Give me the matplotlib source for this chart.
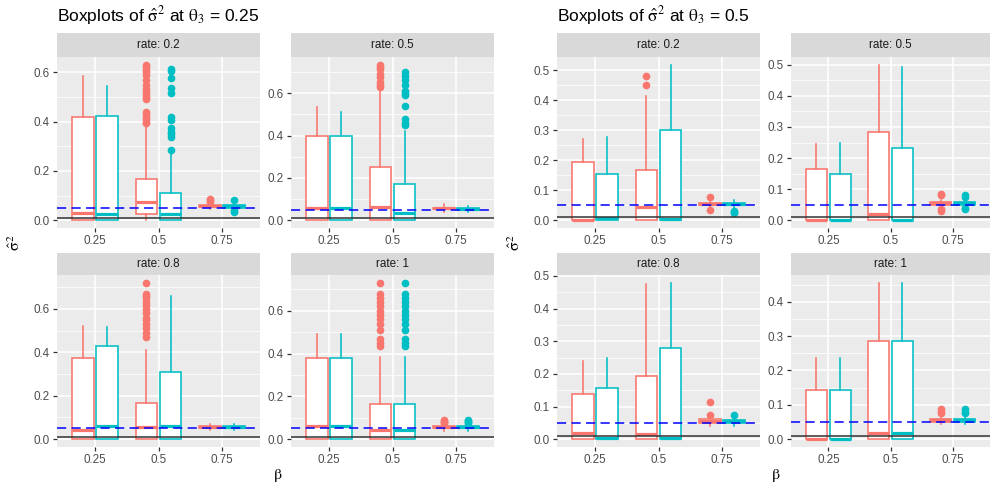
import matplotlib
matplotlib.use('Agg')
import matplotlib.pyplot as plt
from matplotlib.ticker import MultipleLocator, FormatStrFormatter

plt.rcParams['font.family'] = ['Liberation Sans', 'DejaVu Sans']
plt.rcParams['mathtext.fontset'] = 'stix'

# ---------------- data ----------------
beta_labels = ['0.25', '0.5', '0.75']
rate_labels = ['rate: 0.2', 'rate: 0.5', 'rate: 0.8', 'rate: 1']
titles = ['Boxplots of $\\hat{\\mathrm{\\sigma}}^2$ at $\\mathrm{\\theta}_3$ = 0.25',
          'Boxplots of $\\hat{\\mathrm{\\sigma}}^2$ at $\\mathrm{\\theta}_3$ = 0.5']
red = '#F8766D'
teal = '#00BFC4'
ref_solid = 0.01
ref_dashed = 0.05

# stats per beta: [whislo, q1, median, q3, whishi]
# theta3 = 0.25, rate 0.2
A_red = [[0, 0, 0.031, 0.42, 0.585], [0, 0.024, 0.072, 0.167, 0.379], [0.045, 0.052, 0.056, 0.06, 0.068]]
A_red_out = [[], [0.393, 0.40, 0.41, 0.42, 0.43, 0.44, 0.49, 0.50, 0.51, 0.52, 0.53, 0.55, 0.57, 0.59, 0.60, 0.61, 0.62, 0.63], [0.075, 0.08, 0.085]]
A_teal = [[0, 0, 0.027, 0.421, 0.544], [0, 0, 0.027, 0.111, 0.27], [0.045, 0.05, 0.056, 0.06, 0.066]]
A_teal_out = [[], [0.285, 0.339, 0.35, 0.359, 0.372, 0.406, 0.417, 0.515, 0.535, 0.575, 0.605, 0.613], [0.035, 0.04, 0.082]]
# theta3 = 0.25, rate 0.5
B_red = [[0, 0, 0.058, 0.396, 0.533], [0, 0, 0.064, 0.252, 0.62], [0.04, 0.052, 0.056, 0.06, 0.075]]
B_red_out = [[], [0.63, 0.64, 0.655, 0.675, 0.69, 0.715, 0.725, 0.735], []]
B_teal = [[0, 0, 0.058, 0.40, 0.514], [0, 0, 0.034, 0.17, 0.424], [0.04, 0.05, 0.055, 0.06, 0.068]]
B_teal_out = [[], [0.45, 0.46, 0.48, 0.54, 0.59, 0.60, 0.61, 0.64, 0.665, 0.68, 0.70], []]
# theta3 = 0.25, rate 0.8
E_red = [[0, 0, 0.043, 0.374, 0.52], [0, 0, 0.054, 0.166, 0.412], [0.04, 0.052, 0.056, 0.06, 0.07]]
E_red_out = [[], [0.47, 0.49, 0.51, 0.53, 0.55, 0.56, 0.58, 0.60, 0.62, 0.63, 0.65, 0.66, 0.67, 0.72], []]
E_teal = [[0, 0, 0.062, 0.428, 0.515], [0, 0, 0.062, 0.308, 0.661], [0.04, 0.052, 0.056, 0.06, 0.07]]
E_teal_out = [[], [], []]
# theta3 = 0.25, rate 1
F_red = [[0, 0, 0.06, 0.38, 0.49], [0, 0, 0.044, 0.166, 0.385], [0.04, 0.052, 0.056, 0.06, 0.07]]
F_red_out = [[], [0.435, 0.45, 0.47, 0.51, 0.54, 0.56, 0.58, 0.60, 0.62, 0.64, 0.66, 0.68, 0.73], [0.075, 0.08, 0.085, 0.09]]
F_teal = [[0, 0, 0.06, 0.38, 0.49], [0, 0, 0.044, 0.166, 0.385], [0.04, 0.052, 0.056, 0.06, 0.07]]
F_teal_out = [[], [0.435, 0.45, 0.47, 0.51, 0.54, 0.56, 0.58, 0.60, 0.62, 0.64, 0.66, 0.68, 0.73], [0.075, 0.08, 0.085, 0.09]]
# theta3 = 0.5, rate 0.2
C_red = [[0, 0, 0.002, 0.195, 0.27], [0, 0, 0.045, 0.167, 0.415], [0.045, 0.05, 0.055, 0.058, 0.065]]
C_red_out = [[], [0.45, 0.48], [0.035, 0.077]]
C_teal = [[0, 0, 0.009, 0.153, 0.279], [0, 0, 0.003, 0.302, 0.519], [0.04, 0.05, 0.055, 0.058, 0.068]]
C_teal_out = [[], [], [0.025, 0.028, 0.031]]
# theta3 = 0.5, rate 0.5
D_red = [[0, 0, 0.002, 0.166, 0.245], [0, 0, 0.019, 0.285, 0.50], [0.04, 0.05, 0.054, 0.058, 0.065]]
D_red_out = [[], [], [0.03, 0.035, 0.08, 0.085]]
D_teal = [[0, 0, 0.0, 0.15, 0.248], [0, 0, 0.0, 0.232, 0.494], [0.045, 0.05, 0.055, 0.058, 0.066]]
D_teal_out = [[], [], [0.035, 0.04, 0.075, 0.08]]
# theta3 = 0.5, rate 0.8
G_red = [[0, 0, 0.018, 0.139, 0.24], [0, 0, 0.016, 0.194, 0.474], [0.04, 0.05, 0.055, 0.062, 0.065]]
G_red_out = [[], [], [0.073, 0.115]]
G_teal = [[0, 0, 0.003, 0.157, 0.249], [0, 0, 0.005, 0.28, 0.479], [0.04, 0.05, 0.055, 0.06, 0.068]]
G_teal_out = [[], [], [0.075]]
# theta3 = 0.5, rate 1
H_red = [[0, 0, 0.0, 0.142, 0.236], [0, 0, 0.018, 0.285, 0.455], [0.043, 0.05, 0.055, 0.058, 0.068]]
H_red_out = [[], [], [0.075, 0.08, 0.087]]
H_teal = [[0, 0, 0.0, 0.142, 0.236], [0, 0, 0.018, 0.285, 0.455], [0.043, 0.05, 0.055, 0.058, 0.068]]
H_teal_out = [[], [], [0.075, 0.08, 0.087]]

# ---------------- layout ----------------
W, H = 992, 488
fig = plt.figure(figsize=(W / 100, H / 100), dpi=100)


def px_axes(x0, y0, x1, y1):
    return fig.add_axes([x0 / W, 1 - y1 / H, (x1 - x0) / W, (y1 - y0) / H])


def mk(stats, outs):
    return [dict(whislo=s[0], q1=s[1], med=s[2], q3=s[3], whishi=s[4], fliers=o)
            for s, o in zip(stats, outs)]


def draw_panel(x0, x1, sy0, py0, py1, label, rs, ro, ts, to, step):
    sax = px_axes(x0, sy0, x1, py0)
    sax.set_facecolor('#D9D9D9')
    sax.set_xticks([]); sax.set_yticks([])
    for s in sax.spines.values():
        s.set_visible(False)
    sax.text(0.5, 0.5, label, ha='center', va='center', fontsize=8.4,
             color='#1A1A1A', transform=sax.transAxes)

    ax = px_axes(x0, py0, x1, py1)
    ax.set_facecolor('#EBEBEB')
    for s in ax.spines.values():
        s.set_visible(False)
    ax.set_axisbelow(True)
    pos = [1, 2, 3]
    for stats, outs, c, off in ((rs, ro, red, -0.19), (ts, to, teal, 0.19)):
        ax.bxp(mk(stats, outs), positions=[p + off for p in pos], widths=0.34,
               patch_artist=True, showcaps=False, manage_ticks=False,
               boxprops=dict(facecolor='white', edgecolor=c, linewidth=1.15),
               whiskerprops=dict(color=c, linewidth=1.15),
               medianprops=dict(color=c, linewidth=2.3, solid_capstyle='butt'),
               flierprops=dict(marker='o', markerfacecolor=c, markeredgecolor=c,
                               markersize=4.5, linestyle='none'))
    vals = [v for st in (rs, ts) for s in st for v in s] + \
           [v for ol in (ro, to) for o in ol for v in o]
    lo, hi = min(vals), max(vals)
    rng = hi - lo
    ax.set_ylim(lo - 0.05 * rng, hi + 0.05 * rng)
    ax.set_xlim(0.4, 3.6)
    ax.axhline(ref_solid, color='#333333', lw=1.1, zorder=3)
    ax.axhline(ref_dashed, color='blue', lw=1.1, ls=(0, (6, 3.5)), zorder=3)
    ax.set_xticks(pos)
    ax.set_xticklabels(beta_labels)
    ax.yaxis.set_major_locator(MultipleLocator(step))
    ax.yaxis.set_minor_locator(MultipleLocator(step / 2))
    ax.yaxis.set_major_formatter(FormatStrFormatter('%.1f'))
    ax.grid(which='major', color='white', lw=1.1)
    ax.grid(which='minor', axis='y', color='white', lw=0.55)
    ax.tick_params(which='major', length=3.2, width=0.9, color='#333333',
                   labelsize=8.4, labelcolor='#4D4D4D', pad=2)
    ax.tick_params(which='minor', length=0)
    return ax


# left group (theta3 = 0.25)
draw_panel(57, 260, 33, 57, 228, rate_labels[0], A_red, A_red_out, A_teal, A_teal_out, 0.2)
draw_panel(291, 494, 33, 57, 228, rate_labels[1], B_red, B_red_out, B_teal, B_teal_out, 0.2)
draw_panel(57, 260, 253, 275, 447, rate_labels[2], E_red, E_red_out, E_teal, E_teal_out, 0.2)
draw_panel(291, 494, 253, 275, 447, rate_labels[3], F_red, F_red_out, F_teal, F_teal_out, 0.2)
# right group (theta3 = 0.5)
draw_panel(557, 760, 33, 57, 228, rate_labels[0], C_red, C_red_out, C_teal, C_teal_out, 0.1)
draw_panel(791, 990, 33, 57, 228, rate_labels[1], D_red, D_red_out, D_teal, D_teal_out, 0.1)
draw_panel(557, 760, 253, 275, 447, rate_labels[2], G_red, G_red_out, G_teal, G_teal_out, 0.1)
draw_panel(791, 990, 253, 275, 447, rate_labels[3], H_red, H_red_out, H_teal, H_teal_out, 0.1)

# titles and axis labels
for tx, t in zip((57, 557), titles):
    fig.text(tx / W, 1 - 16 / H, t, fontsize=12.5, ha='left', va='center', color='black')
for lx in (15, 515):
    fig.text(lx / W, 1 - 243 / H, '$\\hat{\\mathrm{\\sigma}}^2$', rotation=90, fontsize=11.5,
             ha='center', va='center')
for bx in (278, 776):
    fig.text(bx / W, 1 - 475 / H, '$\\mathrm{\\beta}$', fontsize=11.5, ha='center', va='center')

fig.savefig('out.png', dpi=100, facecolor='white')
